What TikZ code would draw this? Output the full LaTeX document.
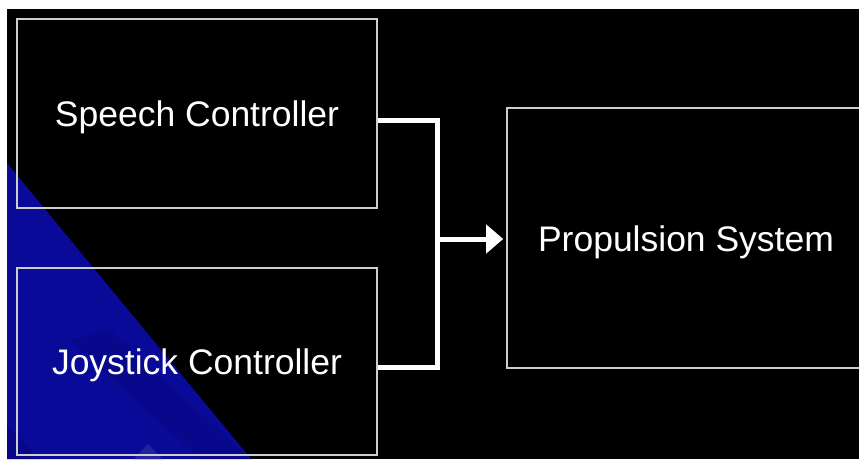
\documentclass[tikz,border=0pt]{standalone}
\usepackage{fontspec}
\setmainfont{Liberation Sans}
\usetikzlibrary{arrows.meta}
\definecolor{bgblue}{RGB}{10,10,152}
\definecolor{darkblue}{RGB}{6,6,120}
\definecolor{boxline}{RGB}{205,205,205}
\tikzset{
  blockbox/.style={draw=boxline, line width=1.6pt, fill=none, inner sep=0pt},
  blocklabel/.style={text=white, font=\fontsize{35.5}{40}\selectfont, inner sep=0pt},
  link/.style={draw=white, line width=5pt, line join=miter},
  linkarrow/.style={link, -{Triangle[length=17pt,width=28pt]}}
}
\begin{document}
\begin{tikzpicture}[x=1pt,y=-1pt]
\useasboundingbox (0,0) rectangle (859,459);
\clip (0,0) rectangle (859,459);
\fill[white] (0,0) rectangle (859,459);
\fill[black] (7,9) rectangle (859,459);
% background decoration
\fill[bgblue] (7,163) -- (7,459) -- (251,459) -- cycle;
\fill[darkblue, opacity=0.35] (70,340) -- (200,459) -- (250,459) -- (110,330) -- cycle;
\fill[darkblue, opacity=0.5] (7,425) -- (7,459) -- (40,459) -- cycle;
\fill[bgblue!90!white] (134,459) -- (148,444) -- (162,459) -- cycle;
% boxes
\node[blockbox, minimum width=360pt, minimum height=189pt] (sp) at (197,113.5) {};
\node[blockbox, minimum width=360pt, minimum height=187pt] (js) at (197,361.5) {};
\node[blockbox, minimum width=358pt, minimum height=260pt] (pr) at (686,238) {};
\node[blocklabel] (spl) at ([yshift=-4pt]sp.center) {Speech Controller};
\node[blocklabel] (jsl) at ([yshift=-4pt]js.center) {Joystick Controller};
\node[blocklabel] (prl) at ([yshift=-4pt]pr.center) {Propulsion System};
% connectors
\coordinate (jn) at (437,239);
\draw[link] ([yshift=-6.5pt]sp.east) -| (jn);
\draw[link] ([yshift=-5.5pt]js.east) -| (jn);
\draw[linkarrow] (jn) -- ([xshift=-3pt,yshift=-1pt]pr.west);
\end{tikzpicture}
\end{document}
